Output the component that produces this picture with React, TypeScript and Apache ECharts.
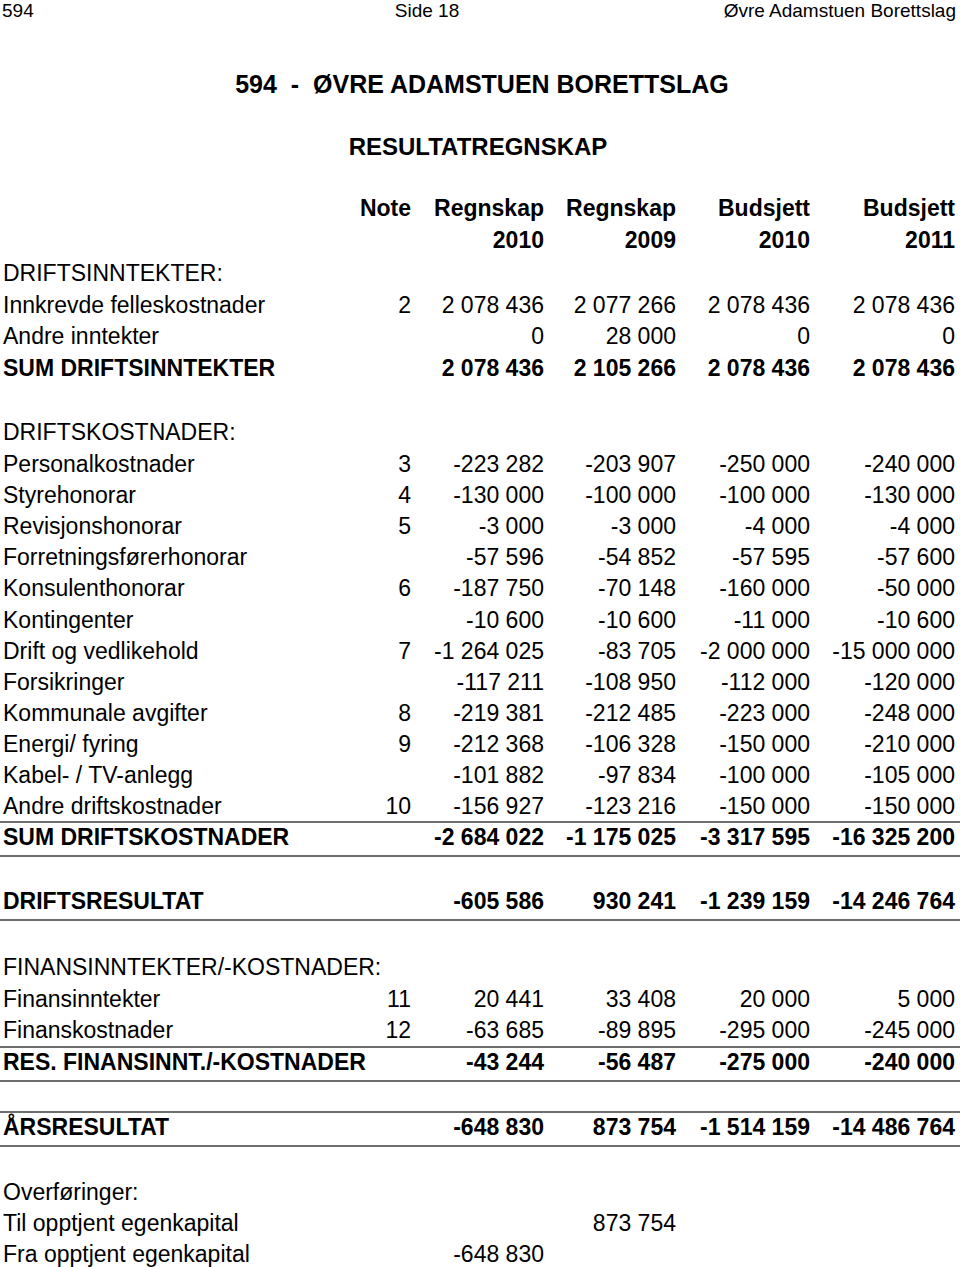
import React, { useEffect, useRef } from "react";
import * as echarts from "echarts";

// ---- data ----
const pageHeader = ["594", "Side 18", "Øvre Adamstuen Borettslag"];
const title = "594  -  ØVRE ADAMSTUEN BORETTSLAG";
const subtitle = "RESULTATREGNSKAP";
const columnHeads = ["Regnskap", "Regnskap", "Budsjett", "Budsjett"];
const columnYears = ["2010", "2009", "2010", "2011"];
const noteHead = "Note";

const rowLabels = [
  "DRIFTSINNTEKTER:",
  "Innkrevde felleskostnader",
  "Andre inntekter",
  "SUM DRIFTSINNTEKTER",
  "DRIFTSKOSTNADER:",
  "Personalkostnader",
  "Styrehonorar",
  "Revisjonshonorar",
  "Forretningsførerhonorar",
  "Konsulenthonorar",
  "Kontingenter",
  "Drift og vedlikehold",
  "Forsikringer",
  "Kommunale avgifter",
  "Energi/ fyring",
  "Kabel- / TV-anlegg",
  "Andre driftskostnader",
  "SUM DRIFTSKOSTNADER",
  "DRIFTSRESULTAT",
  "FINANSINNTEKTER/-KOSTNADER:",
  "Finansinntekter",
  "Finanskostnader",
  "RES. FINANSINNT./-KOSTNADER",
  "ÅRSRESULTAT",
  "Overføringer:",
  "Til opptjent egenkapital",
  "Fra opptjent egenkapital",
];
const rowNotes: (number | null)[] = [
  null, 2, null, null, null, 3, 4, 5, null, 6, null, 7, null, 8, 9, null, 10,
  null, null, null, 11, 12, null, null, null, null, null,
];
const boldRows = [
  "SUM DRIFTSINNTEKTER",
  "SUM DRIFTSKOSTNADER",
  "DRIFTSRESULTAT",
  "RES. FINANSINNT./-KOSTNADER",
  "ÅRSRESULTAT",
];
const regnskap2010: (number | null)[] = [
  null, 2078436, 0, 2078436, null, -223282, -130000, -3000, -57596, -187750,
  -10600, -1264025, -117211, -219381, -212368, -101882, -156927, -2684022,
  -605586, null, 20441, -63685, -43244, -648830, null, null, -648830,
];
const regnskap2009: (number | null)[] = [
  null, 2077266, 28000, 2105266, null, -203907, -100000, -3000, -54852, -70148,
  -10600, -83705, -108950, -212485, -106328, -97834, -123216, -1175025,
  930241, null, 33408, -89895, -56487, 873754, null, 873754, null,
];
const budsjett2010: (number | null)[] = [
  null, 2078436, 0, 2078436, null, -250000, -100000, -4000, -57595, -160000,
  -11000, -2000000, -112000, -223000, -150000, -100000, -150000, -3317595,
  -1239159, null, 20000, -295000, -275000, -1514159, null, null, null,
];
const budsjett2011: (number | null)[] = [
  null, 2078436, 0, 2078436, null, -240000, -130000, -4000, -57600, -50000,
  -10600, -15000000, -120000, -248000, -210000, -105000, -150000, -16325200,
  -14246764, null, 5000, -245000, -240000, -14486764, null, null, null,
];
const valueColumns = [regnskap2010, regnskap2009, budsjett2010, budsjett2011];

// ---- layout (not data) ----
const W = 960;
const H = 1267;
const FONT = "'Liberation Sans', Arial, sans-serif";
const FS = 23;
const rowY = [
  273, 305, 336, 368, 432, 464, 495, 526, 557, 588, 620, 651, 682, 713, 744,
  775, 806, 837, 901, 967, 999, 1030, 1062, 1127, 1192, 1223, 1254,
];
const noteRight = 411;
const colRights = [544, 676, 810, 955];
const ruleYs = [822, 856, 920, 1047, 1081, 1112, 1146];

function fmt(v: number): string {
  const neg = v < 0;
  const s = Math.abs(v).toString().replace(/\B(?=(\d{3})+(?!\d))/g, " ");
  return (neg ? "-" : "") + s;
}

function txt(
  text: string,
  x: number,
  y: number,
  align: "left" | "right" | "center",
  bold: boolean,
  size = FS
) {
  return {
    type: "text",
    x,
    y,
    style: {
      text,
      x: 0,
      y: 0,
      fill: "#000",
      font: `${bold ? "bold " : ""}${size}px ${FONT}`,
      textAlign: align,
      textVerticalAlign: "middle",
      align,
      verticalAlign: "middle",
    },
  };
}

export default function App() {
  const ref = useRef<HTMLDivElement>(null);
  useEffect(() => {
    document.body.style.margin = "0";
    if (!ref.current) return;
    const chart = echarts.init(ref.current, null, { renderer: "svg" });
    const els: any[] = [];
    els.push(txt(pageHeader[0], 2, 10, "left", false, 19));
    els.push(txt(pageHeader[1], 427, 10, "center", false, 19));
    els.push(txt(pageHeader[2], 956, 10, "right", false, 19));
    els.push(txt(title, 482, 84, "center", true, 25));
    els.push(txt(subtitle, 478, 146, "center", true, 24));
    els.push(txt(noteHead, noteRight, 208, "right", true));
    columnHeads.forEach((h, i) => els.push(txt(h, colRights[i], 208, "right", true)));
    columnYears.forEach((h, i) => els.push(txt(h, colRights[i], 240, "right", true)));
    rowLabels.forEach((label, r) => {
      const bold = boldRows.includes(label);
      const y = rowY[r];
      els.push(txt(label, 3, y, "left", bold));
      const n = rowNotes[r];
      if (n !== null) els.push(txt(String(n), noteRight, y, "right", false));
      valueColumns.forEach((col, c) => {
        const v = col[r];
        if (v !== null && v !== undefined) els.push(txt(fmt(v), colRights[c], y, "right", bold));
      });
    });
    ruleYs.forEach((y) =>
      els.push({
        type: "line",
        shape: { x1: 0, y1: y, x2: W, y2: y },
        style: { stroke: "#6e6e6e", lineWidth: 2 },
      })
    );
    chart.setOption({ animation: false, graphic: { elements: els } });
    return () => chart.dispose();
  }, []);
  return <div ref={ref} style={{ width: W, height: H, background: "#fff" }} />;
}
